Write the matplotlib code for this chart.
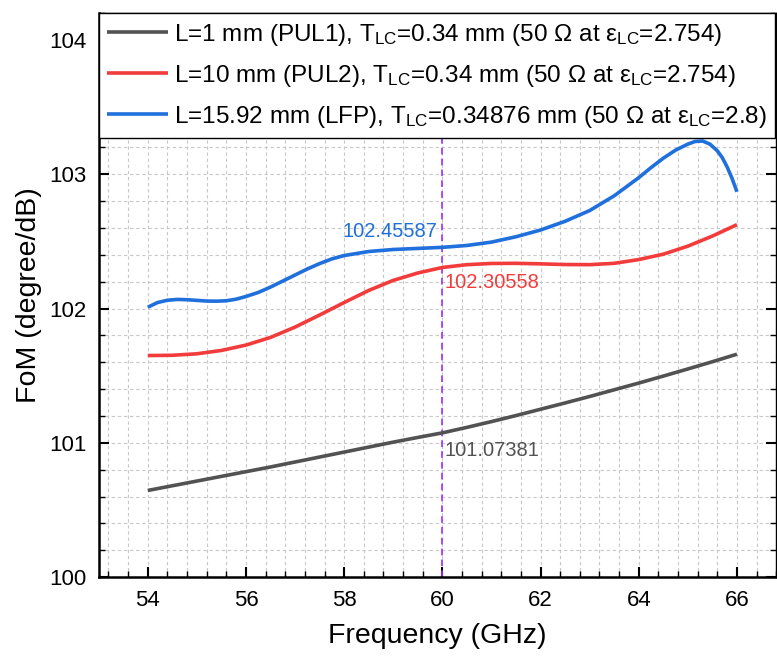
import matplotlib
matplotlib.use("Agg")
import matplotlib.pyplot as plt
from matplotlib.ticker import MultipleLocator

plt.rcParams['font.family'] = ['Liberation Sans', 'DejaVu Sans']
plt.rcParams['mathtext.fontset'] = 'custom'
plt.rcParams['mathtext.rm'] = 'Liberation Sans'
plt.rcParams['mathtext.it'] = 'Liberation Sans'

# ---- data ----
freq_black = [54, 54.5, 55, 55.5, 56, 56.5, 57, 57.5, 58, 58.5, 59, 59.5, 60,
              60.5, 61, 61.5, 62, 62.5, 63, 63.5, 64, 64.5, 65, 65.5, 66]
fom_pul1 = [100.645, 100.68, 100.715, 100.75, 100.785, 100.82, 100.857, 100.894,
            100.931, 100.968, 101.005, 101.04, 101.074, 101.115, 101.158, 101.203,
            101.25, 101.297, 101.345, 101.395, 101.445, 101.497, 101.55, 101.604, 101.66]

freq_red = [54, 54.5, 55, 55.5, 56, 56.5, 57, 57.5, 58, 58.5, 59, 59.5, 60,
            60.5, 61, 61.5, 62, 62.5, 63, 63.5, 64, 64.5, 65, 65.5, 66]
fom_pul2 = [101.65, 101.652, 101.663, 101.688, 101.728, 101.785, 101.862, 101.952,
            102.045, 102.135, 102.21, 102.265, 102.306, 102.327, 102.336, 102.337,
            102.333, 102.328, 102.327, 102.337, 102.365, 102.405, 102.465, 102.54, 102.625]

freq_blue = [54, 54.2, 54.4, 54.6, 54.8, 55, 55.2, 55.4, 55.6, 55.8, 56, 56.25, 56.5,
             56.75, 57, 57.25, 57.5, 57.75, 58, 58.5, 59, 59.5, 60, 60.5, 61, 61.5,
             62, 62.5, 63, 63.5, 64, 64.25, 64.5, 64.75, 65, 65.15, 65.3, 65.45, 65.6,
             65.7, 65.8, 65.9, 66]
fom_lfp = [102.01, 102.045, 102.062, 102.068, 102.066, 102.061, 102.056, 102.055,
           102.058, 102.07, 102.09, 102.12, 102.16, 102.205, 102.25, 102.295, 102.335,
           102.37, 102.395, 102.425, 102.44, 102.448, 102.456, 102.47, 102.495, 102.535,
           102.585, 102.65, 102.73, 102.84, 102.975, 103.05, 103.12, 103.18, 103.225,
           103.245, 103.248, 103.225, 103.175, 103.125, 103.055, 102.97, 102.87]

labels = [r'L=1 mm (PUL1), T$_{\mathrm{LC}}$=0.34 mm (50 Ω at ε$_{\mathrm{LC}}$=2.754)',
          r'L=10 mm (PUL2), T$_{\mathrm{LC}}$=0.34 mm (50 Ω at ε$_{\mathrm{LC}}$=2.754)',
          r'L=15.92 mm (LFP), T$_{\mathrm{LC}}$=0.34876 mm (50 Ω at ε$_{\mathrm{LC}}$=2.8)']
colors = ['#525252', '#f23c3c', '#1f6fdc']

marker_freq = 60
marker_vals = [101.07381, 102.30558, 102.45587]

fig = plt.figure(figsize=(7.77, 6.61), dpi=100)
ax = fig.add_axes([0.127, 0.127, 0.872, 0.853])

for fx, fy, c, lab in [(freq_black, fom_pul1, colors[0], labels[0]),
                       (freq_red, fom_pul2, colors[1], labels[1]),
                       (freq_blue, fom_lfp, colors[2], labels[2])]:
    ax.plot(fx, fy, color=c, lw=2.6, label=lab, solid_capstyle='butt',
            solid_joinstyle='round')

ax.axvline(marker_freq, color='#9b30ff', lw=1.2, ls=(0, (4, 2.5)), zorder=1)

ax.text(marker_freq + 0.04, marker_vals[0] - 0.13, f'{marker_vals[0]}', color=colors[0],
        fontsize=14.5, ha='left', va='center')
ax.text(marker_freq + 0.04, marker_vals[1] - 0.11, f'{marker_vals[1]}', color=colors[1],
        fontsize=14.5, ha='left', va='center')
ax.text(marker_freq - 0.1, marker_vals[2] + 0.12, f'{marker_vals[2]}', color=colors[2],
        fontsize=14.5, ha='right', va='center')

ax.set_xlim(53.0, 66.8)
ax.set_ylim(100, 104.2)
ax.xaxis.set_major_locator(MultipleLocator(2))
ax.xaxis.set_minor_locator(MultipleLocator(0.4))
ax.yaxis.set_major_locator(MultipleLocator(1))
ax.yaxis.set_minor_locator(MultipleLocator(0.2))

ax.grid(True, which='both', ls=(0, (3, 2.5)), color='#c8c8c8', lw=0.8)
ax.set_axisbelow(True)

ax.tick_params(which='both', direction='in', top=True, right=True)
ax.tick_params(which='major', length=7, width=1.5, labelsize=16, pad=9)
ax.tick_params(which='minor', length=4, width=1.0)
for s in ['left', 'bottom']:
    ax.spines[s].set_linewidth(1.8)
for s in ['right', 'top']:
    ax.spines[s].set_linewidth(1.0)

ax.set_xlabel('Frequency (GHz)', fontsize=20.5, labelpad=9)
ax.set_ylabel('FoM (degree/dB)', fontsize=20.5, labelpad=5)

leg = ax.legend(loc='upper left', bbox_to_anchor=(0.0, 1.0), fontsize=17.5,
                frameon=True, fancybox=False, framealpha=1, edgecolor='black',
                handlelength=2.5, handletextpad=0.25, borderpad=0.35,
                labelspacing=0.62, borderaxespad=0.0)
leg.get_frame().set_linewidth(1.0)

fig.savefig('out.png', dpi=100)
